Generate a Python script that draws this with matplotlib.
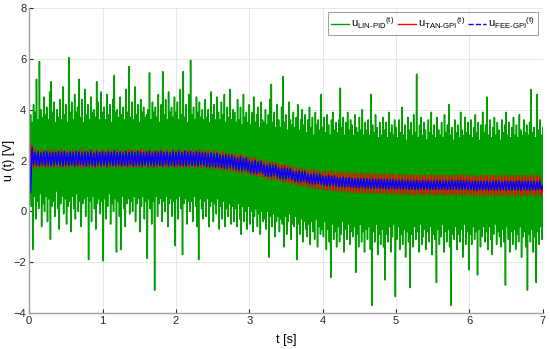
import numpy as np
import matplotlib
matplotlib.use('Agg')
import matplotlib.pyplot as plt
from matplotlib.lines import Line2D

# LIN-PID control signal, one value every 0.01 s (column extremes)
u_lin_pid = [
    2.6, 0.5, 3.8, 0.2, 3.5, -1.5, 4.2, 0.6, 3.9, -0.3, 5.2, 0.4, 3.6, 0.1, 5.9, 0.7, 4.0, -0.6, 3.7, 0.3,
    4.5, 0.0, 3.8, 0.6, 4.1, -0.4, 3.6, 0.5, 4.7, -1.1, 5.1, 0.2, 3.9, 0.4, 4.3, -0.2, 3.5, 0.8, 4.0, 0.1,
    3.7, -0.7, 4.4, 0.3, 3.6, 0.6, 4.9, -0.1, 3.8, 0.5, 4.2, -0.5, 3.5, 0.2, 6.05, 0.4, 3.9, -0.8, 4.3, 0.6,
    3.6, 0.1, 4.6, -0.3, 3.9, 0.7, 4.1, 0.0, 5.2, 0.4, 3.7, -0.6, 4.4, 0.3, 3.5, 0.5, 4.8, -0.2, 3.8, 0.6,
    4.2, -1.9, 3.6, 0.4, 4.5, -0.4, 3.9, 0.6, 4.0, 0.1, 3.7, -0.7, 5.1, 0.3, 4.3, 0.5, 3.6, -0.1, 4.7, 0.4,
    3.9, -1.95, 4.1, 0.5, 3.6, -0.3, 4.6, 0.2, 3.8, 0.7, 4.2, -0.5, 3.5, 0.3, 4.4, 0.0, 5.35, 0.5, 3.9, -1.6,
    4.0, 0.4, 3.7, -0.2, 4.5, -1.5, 3.8, 0.6, 4.1, 0.1, 3.6, -0.6, 4.8, 0.3, 3.9, 0.5, 5.7, -0.1, 3.7, 0.4,
    4.3, 0.0, 3.6, 0.6, 4.9, -0.4, 3.8, 0.3, 4.2, 0.5, 3.5, -0.8, 4.4, 0.2, 3.9, 0.6, 4.1, -0.3, 3.7, 0.4,
    3.8, -1.85, 4.0, 0.5, 5.45, 0.1, 3.6, -0.5, 4.3, 0.4, 3.9, -3.1, 4.1, 0.6, 3.7, -0.2, 4.6, 0.3, 3.5, 0.5,
    4.2, -0.4, 5.5, 0.4, 3.8, 0.0, 4.4, 0.6, 3.6, -0.6, 4.7, 0.3, 3.9, 0.5, 4.1, -0.2, 3.7, 0.4, 4.5, -1.35,
    3.9, 0.5, 4.3, -0.3, 3.6, 0.6, 4.8, 0.1, 3.8, -1.7, 5.5, 0.3, 3.7, 0.5, 4.2, -0.5, 3.5, 0.4, 4.6, 0.0,
    5.95, 0.4, 3.8, -0.4, 4.1, 0.6, 3.6, 0.2, 4.5, -0.6, 3.9, -1.9, 4.3, 0.5, 3.7, 0.1, 4.0, -0.3, 3.6, 0.4,
    4.4, -0.2, 3.7, 0.5, 4.0, -0.6, 3.5, 0.2, 4.7, 0.4, 3.8, -0.4, 4.2, 0.3, 3.6, -0.1, 4.5, 0.5, 3.9, -0.7,
    3.6, 0.2, 4.3, -0.3, 3.8, 0.4, 4.6, -0.6, 3.5, 0.1, 4.1, -0.2, 3.7, 0.3, 4.8, -0.5, 3.6, 0.2, 4.0, -0.4,
    3.9, 0.1, 3.5, -0.6, 4.4, 0.3, 3.6, -0.3, 4.1, -0.9, 3.4, 0.2, 4.6, -0.4, 3.7, 0.0, 3.9, -0.7, 3.5, 0.2,
    4.2, -0.5, 3.4, 0.0, 3.9, -0.8, 4.5, -0.2, 3.5, 0.1, 3.8, -0.6, 4.1, -0.1, 3.3, -0.9, 4.3, 0.0, 3.6, -0.4,
    3.5, -0.3, 4.0, -0.7, 3.4, 0.0, 3.8, -1.8, 4.4, -0.2, 5.0, -0.6, 3.5, -0.1, 3.9, -1.0, 3.3, -0.4, 4.2, -0.2,
    3.6, -0.8, 3.3, -0.3, 4.1, -0.5, 5.3, -1.4, 3.5, -0.2, 3.8, -0.9, 3.2, -0.4, 4.3, -0.1, 3.6, -1.1, 3.4, -0.5,
    3.9, -0.6, 3.3, -0.2, 3.7, -1.9, 4.2, -0.5, 3.2, -0.9, 3.6, -0.3, 4.0, -1.2, 3.4, -0.4, 3.8, -0.7, 3.1, -1.0,
    3.6, -0.5, 4.1, -1.3, 3.3, -0.4, 3.7, -0.8, 3.0, -1.1, 3.9, -0.3, 3.4, -1.4, 3.6, -0.6, 3.2, -0.9, 4.6, -0.7,
    3.3, -1.0, 3.7, -0.4, 3.1, -1.5, 3.8, -0.7, 3.4, -1.2, 3.0, -2.6, 3.6, -0.5, 3.9, -1.1, 3.2, -0.8, 3.5, -1.4,
    3.1, -0.6, 3.6, -1.2, 4.85, -0.9, 3.3, -0.4, 3.7, -1.6, 3.0, -0.7, 3.5, -1.1, 3.9, -0.5, 3.2, -1.3, 3.6, -0.8,
    3.4, -1.0, 3.0, -0.6, 3.8, -2.4, 3.3, -0.9, 3.1, -1.4, 3.7, -0.5, 3.2, -1.2, 4.0, -0.8, 3.0, -1.6, 3.5, -0.7,
    3.2, -1.1, 3.6, -0.6, 3.0, -1.5, 4.6, -3.7, 3.4, -0.8, 3.1, -1.2, 3.8, -0.5, 3.3, -1.7, 2.9, -0.9, 3.5, -1.3,
    3.0, -0.7, 3.7, -1.4, 3.2, -2.7, 3.5, -0.9, 2.9, -1.2, 3.9, -0.6, 3.1, -1.6, 3.4, -1.0, 3.0, -0.5, 3.6, -3.35,
    3.3, -1.1, 2.9, -0.6, 3.6, -1.5, 3.1, -0.9, 4.1, -1.3, 3.0, -0.7, 3.4, -1.8, 2.8, -0.8, 3.7, -1.2, 3.2, -3.0,
    3.5, -0.9, 3.0, -1.4, 3.8, -0.6, 3.1, -1.1, 5.4, -0.8, 2.9, -1.6, 3.4, -0.5, 3.7, -1.3, 3.0, -1.0, 3.5, -0.7,
    3.2, -1.5, 2.8, -0.8, 3.6, -1.2, 3.1, -0.6, 3.9, -1.7, 3.0, -0.9, 3.4, -1.1, 2.9, -2.8, 3.7, -0.7, 3.2, -1.3,
    3.0, -1.0, 3.5, -0.5, 2.9, -1.6, 3.8, -0.8, 3.1, -1.2, 3.4, -0.7, 4.2, -1.4, 3.0, -3.7, 3.3, -0.9, 2.8, -1.1,
    3.6, -0.6, 3.1, -1.5, 3.4, -0.9, 2.9, -1.2, 3.9, -0.7, 3.2, -1.8, 3.0, -0.5, 3.7, -1.3, 3.1, -0.8, 3.5, -2.3,
    3.0, -0.9, 3.6, -1.3, 2.9, -0.6, 3.3, -1.1, 3.8, -0.8, 3.1, -2.5, 3.5, -0.7, 2.8, -1.4, 3.4, -1.0, 3.9, -0.6,
    3.1, -1.2, 3.4, -0.8, 4.5, -1.5, 3.0, -0.6, 3.6, -1.1, 2.9, -1.7, 3.3, -0.9, 3.7, -0.5, 3.0, -1.3, 3.5, -0.8,
    3.2, -1.0, 2.8, -1.4, 3.6, -0.7, 3.1, -1.2, 3.4, -2.9, 3.9, -0.6, 3.0, -1.1, 3.5, -1.6, 2.9, -0.8, 3.3, -1.3,
    3.7, -0.7, 3.0, -1.5, 3.4, -0.9, 2.9, -1.2, 3.8, -0.6, 3.2, -1.8, 3.0, -1.0, 3.6, -0.8, 3.1, -1.4, 3.4, -3.1,
    3.0, -0.9, 3.5, -1.2, 4.8, -0.7, 3.1, -1.6, 3.3, -1.0, 2.9, -2.8, 4.6, -0.8, 3.2, -1.3, 3.6, -0.6, 3.0, -1.1,
    3.3,
]

# TAN-GPI and FEE-GPI control signals, one value every 0.02 s
u_tan_gpi = [
    3.4, 1.4, 2.6, 1.7, 2.45, 1.75, 2.4, 1.72, 2.38, 1.76,
    2.42, 1.74, 2.36, 1.7, 2.44, 1.78, 2.35, 1.73, 2.4, 1.76,
    2.38, 1.72, 2.45, 1.77, 2.33, 1.7, 2.41, 1.75, 2.37, 1.79,
    2.43, 1.73, 2.36, 1.76, 2.4, 1.71, 2.46, 1.74, 2.34, 1.78,
    2.39, 1.72, 2.44, 1.75, 2.37, 1.7, 2.42, 1.77, 2.35, 1.73,
    2.41, 1.76, 2.38, 1.71, 2.45, 1.74, 2.36, 1.78, 2.4, 1.72,
    2.43, 1.75, 2.35, 1.73, 2.42, 1.77, 2.39, 1.7, 2.44, 1.74,
    2.37, 1.76, 2.41, 1.72, 2.36, 1.75, 2.47, 1.73, 2.4, 1.78,
    2.38, 1.71, 2.44, 1.76, 2.35, 1.74, 2.42, 1.7, 2.39, 1.77,
    2.45, 1.73, 2.36, 1.75, 2.41, 1.72, 2.38, 1.78, 2.43, 1.74,
    2.37, 1.71, 2.42, 1.76, 2.4, 1.73, 2.35, 1.75, 2.44, 1.72,
    2.39, 1.77, 2.41, 1.7, 2.36, 1.74, 2.43, 1.72, 2.38, 1.75,
    2.37, 1.69, 2.4, 1.72, 2.33, 1.67, 2.38, 1.7, 2.35, 1.68,
    2.31, 1.63, 2.34, 1.6, 2.3, 1.65, 2.28, 1.58, 2.27, 1.6,
    2.24, 1.55, 2.2, 1.52, 2.25, 1.5, 2.18, 1.53, 2.16, 1.48,
    2.12, 1.45, 2.08, 1.4, 2.1, 1.38, 2.04, 1.4, 2.02, 1.35,
    1.98, 1.32, 1.96, 1.28, 1.95, 1.25, 1.92, 1.27, 1.9, 1.22,
    1.86, 1.2, 1.84, 1.15, 1.85, 1.14, 1.8, 1.12, 1.78, 1.1,
    1.74, 1.06, 1.72, 1.04, 1.7, 1.0, 1.68, 1.02, 1.66, 0.97,
    1.64, 0.95, 1.62, 0.92, 1.65, 0.9, 1.6, 0.88, 1.58, 0.9,
    1.57, 0.85, 1.6, 0.82, 1.55, 0.84, 1.58, 0.8, 1.54, 0.79,
    1.53, 0.78, 1.56, 0.76, 1.5, 0.8, 1.55, 0.74, 1.52, 0.77,
    1.5, 0.74, 1.53, 0.72, 1.48, 0.76, 1.52, 0.7, 1.49, 0.73,
    1.47, 0.71, 1.51, 0.74, 1.46, 0.69, 1.5, 0.72, 1.48, 0.7,
    1.45, 0.7, 1.5, 0.67, 1.44, 0.72, 1.47, 0.68, 1.46, 0.69,
    1.43, 0.66, 1.47, 0.69, 1.42, 0.65, 1.46, 0.7, 1.44, 0.64,
    1.42, 0.66, 1.45, 0.63, 1.4, 0.68, 1.44, 0.65, 1.41, 0.62,
    1.43, 0.67, 1.4, 0.64, 1.46, 0.66, 1.41, 0.63, 1.44, 0.68,
    1.4, 0.65, 1.45, 0.62, 1.42, 0.67, 1.39, 0.64, 1.43, 0.66,
    1.41, 0.63, 1.44, 0.66, 1.4, 0.62, 1.46, 0.65, 1.42, 0.67,
    1.39, 0.63, 1.43, 0.6, 1.4, 0.65, 1.38, 0.62, 1.42, 0.64,
    1.4, 0.61, 1.44, 0.63, 1.39, 0.66, 1.41, 0.6, 1.43, 0.64,
    1.38, 0.62, 1.42, 0.65, 1.4, 0.61, 1.44, 0.63, 1.39, 0.66,
    1.41, 0.6, 1.43, 0.64, 1.38, 0.62, 1.42, 0.65, 1.4, 0.61,
    1.44, 0.63, 1.39, 0.66, 1.41, 0.6, 1.43, 0.64, 1.38, 0.62,
    1.0,
]

u_fee_gpi = [
    2.7, 0.72, 2.5, 1.85, 2.32, 1.82, 2.35, 1.8, 2.3, 1.84,
    2.33, 1.8, 2.36, 1.83, 2.3, 1.79, 2.34, 1.82, 2.31, 1.85,
    2.35, 1.81, 2.32, 1.78, 2.37, 1.84, 2.29, 1.8, 2.34, 1.83,
    2.31, 1.79, 2.36, 1.82, 2.33, 1.85, 2.3, 1.8, 2.35, 1.78,
    2.32, 1.83, 2.37, 1.81, 2.29, 1.79, 2.34, 1.84, 2.31, 1.8,
    2.36, 1.82, 2.3, 1.78, 2.35, 1.83, 2.33, 1.8, 2.38, 1.81,
    2.31, 1.84, 2.34, 1.79, 2.3, 1.82, 2.36, 1.8, 2.32, 1.85,
    2.35, 1.78, 2.31, 1.83, 2.37, 1.81, 2.33, 1.79, 2.3, 1.84,
    2.34, 1.8, 2.36, 1.82, 2.29, 1.78, 2.35, 1.83, 2.32, 1.81,
    2.37, 1.79, 2.31, 1.84, 2.34, 1.8, 2.3, 1.82, 2.36, 1.78,
    2.33, 1.83, 2.35, 1.8, 2.31, 1.81, 2.38, 1.79, 2.32, 1.84,
    2.34, 1.8, 2.3, 1.82, 2.36, 1.78, 2.33, 1.83, 2.31, 1.81,
    2.3, 1.77, 2.28, 1.75, 2.31, 1.78, 2.26, 1.74, 2.29, 1.76,
    2.22, 1.72, 2.2, 1.7, 2.24, 1.69, 2.19, 1.73, 2.21, 1.68,
    2.12, 1.64, 2.1, 1.62, 2.14, 1.6, 2.08, 1.63, 2.11, 1.59,
    1.98, 1.52, 1.96, 1.5, 2.0, 1.49, 1.95, 1.53, 1.97, 1.48,
    1.84, 1.4, 1.82, 1.38, 1.86, 1.37, 1.81, 1.41, 1.83, 1.36,
    1.71, 1.29, 1.7, 1.27, 1.73, 1.26, 1.68, 1.3, 1.7, 1.25,
    1.58, 1.18, 1.57, 1.16, 1.6, 1.15, 1.55, 1.19, 1.57, 1.14,
    1.47, 1.09, 1.46, 1.08, 1.49, 1.07, 1.45, 1.1, 1.47, 1.06,
    1.39, 1.02, 1.38, 1.0, 1.41, 1.01, 1.37, 1.03, 1.39, 0.99,
    1.33, 0.97, 1.32, 0.96, 1.35, 0.95, 1.31, 0.98, 1.33, 0.94,
    1.3, 0.94, 1.29, 0.93, 1.31, 0.92, 1.28, 0.95, 1.3, 0.91,
    1.28, 0.92, 1.27, 0.91, 1.29, 0.9, 1.26, 0.93, 1.28, 0.9,
    1.26, 0.9, 1.25, 0.89, 1.27, 0.88, 1.24, 0.91, 1.26, 0.88,
    1.23, 0.89, 1.22, 0.88, 1.24, 0.87, 1.21, 0.9, 1.23, 0.86,
    1.21, 0.87, 1.2, 0.86, 1.22, 0.85, 1.19, 0.88, 1.21, 0.86,
    1.2, 0.88, 1.22, 0.85, 1.19, 0.87, 1.21, 0.86, 1.23, 0.87,
    1.22, 0.86, 1.19, 0.88, 1.21, 0.85, 1.2, 0.87, 1.22, 0.86,
    1.19, 0.87, 1.21, 0.86, 1.23, 0.85, 1.2, 0.88, 1.21, 0.86,
    1.19, 0.85, 1.18, 0.84, 1.2, 0.83, 1.17, 0.86, 1.19, 0.84,
    1.18, 0.86, 1.2, 0.83, 1.17, 0.85, 1.19, 0.84, 1.21, 0.85,
    1.2, 0.84, 1.17, 0.86, 1.19, 0.83, 1.18, 0.85, 1.2, 0.84,
    1.17, 0.85, 1.19, 0.84, 1.21, 0.83, 1.18, 0.86, 1.19, 0.84,
    1.2, 0.83, 1.18, 0.85, 1.19, 0.84, 1.17, 0.86, 1.2, 0.85,
    1.02,
]

labels = [r'u$_{\text{LIN-PID}}{}^{\text{(t)}}$', r'u$_{\text{TAN-GPI}}{}^{\text{(t)}}$',
          r'u$_{\text{FEE-GPI}}{}^{\text{(t)}}$']
colors = ['#00a000', '#ff0000', '#0000ff']

t_pid = np.linspace(0, 7, len(u_lin_pid))
t_gpi = np.linspace(0, 7, len(u_tan_gpi))

plt.rcParams['font.family'] = ['Liberation Sans', 'DejaVu Sans']
plt.rcParams['mathtext.fontset'] = 'custom'
plt.rcParams['mathtext.rm'] = 'Liberation Sans'

fig = plt.figure(figsize=(5.5, 3.49), dpi=100)
ax = fig.add_axes([0.053, 0.103, 0.934, 0.874])

ax.plot(t_pid, u_lin_pid, color=colors[0], lw=1.1)
ax.plot(t_gpi, u_tan_gpi, color=colors[1], lw=1.0)
ax.plot(t_gpi, u_fee_gpi, color=colors[2], lw=1.0)

ax.set_xlim(0, 7)
ax.set_ylim(-4, 8)
ax.set_xticks(range(0, 8))
ax.set_yticks(range(-4, 9, 2))
ax.grid(True, color='#e3e3e3', lw=0.6)
ax.set_axisbelow(True)
ax.tick_params(direction='in', length=3, labelsize=8, colors='#262626', pad=2)
for s in ['top', 'right']:
    ax.spines[s].set_visible(False)
for s in ['left', 'bottom']:
    ax.spines[s].set_color('#a0a0a0')
    ax.spines[s].set_linewidth(1.0)

ax.set_xlabel('t [s]', fontsize=9, labelpad=6)
ax.set_ylabel('u (t) [V]', fontsize=9)
ax.yaxis.set_label_coords(-0.027, 0.5)

handles = [Line2D([], [], color=colors[0], lw=1.0),
           Line2D([], [], color=colors[1], lw=1.0),
           Line2D([], [], color=colors[2], lw=1.0, ls='--')]
leg = ax.legend(handles, labels, loc='upper right', ncol=3, fontsize=8,
                frameon=True, fancybox=False, handlelength=1.6, handletextpad=0.2,
                columnspacing=0.3, borderpad=0.3, borderaxespad=0.4)
leg.get_frame().set_edgecolor('#8c8c8c')
leg.get_frame().set_linewidth(0.8)

fig.savefig('out.png', dpi=100)
